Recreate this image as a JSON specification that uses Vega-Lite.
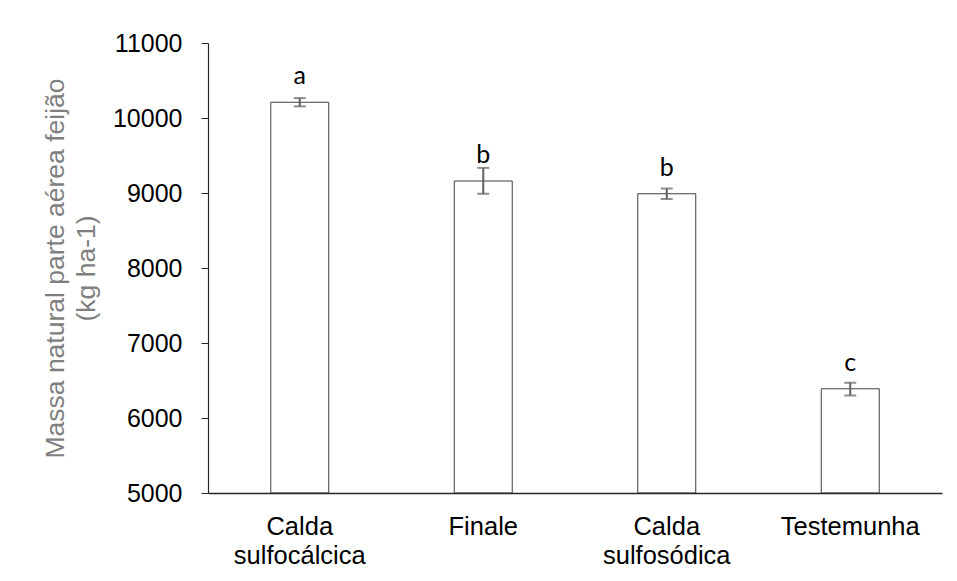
{
  "$schema": "https://vega.github.io/schema/vega-lite/v6.json",
  "width": 734,
  "height": 450,
  "autosize": {"type": "none"},
  "padding": {"left": 208, "top": 43, "right": 15, "bottom": 88},
  "background": "white",
  "config": {"view": {"stroke": null}},
  "data": {
    "values": [
      {"trat": "Calda sulfocálcica", "media": 10210, "lo": 10155, "hi": 10265, "letra": "a"},
      {"trat": "Finale", "media": 9160, "lo": 8990, "hi": 9335, "letra": "b"},
      {"trat": "Calda sulfosódica", "media": 8990, "lo": 8920, "hi": 9060, "letra": "b"},
      {"trat": "Testemunha", "media": 6390, "lo": 6300, "hi": 6470, "letra": "c"}
    ]
  },
  "encoding": {
    "x": {
      "field": "trat",
      "type": "nominal",
      "sort": null,
      "scale": {"paddingInner": 0.684, "paddingOuter": 0.342},
      "axis": {
        "title": null,
        "labelAngle": 0,
        "labelExpr": "split(datum.label, ' ')",
        "labelFont": "Liberation Sans",
        "labelFontSize": 25.5,
        "labelColor": "#000000",
        "labelLineHeight": 29,
        "labelPadding": 21,
        "labelBaseline": "top",
        "ticks": false,
        "domainColor": "#262626",
        "domainWidth": 1.6,
        "zindex": 1
      }
    }
  },
  "layer": [
    {
      "mark": {"type": "bar", "fill": "white", "stroke": "#404040", "strokeWidth": 1},
      "encoding": {
        "y": {
          "field": "media",
          "type": "quantitative",
          "scale": {"domain": [5000, 11000], "nice": false, "zero": false},
          "axis": {
            "title": ["Massa natural parte aérea feijão", "(kg ha-1)"],
            "titleColor": "#7f7f7f",
            "titleFont": "Liberation Sans",
            "titleFontSize": 26.5,
            "titleFontWeight": "normal",
            "titleLineHeight": 31,
            "titlePadding": 12,
            "values": [5000, 6000, 7000, 8000, 9000, 10000, 11000],
            "format": "d",
            "grid": false,
            "labelFont": "Liberation Sans",
            "labelFontSize": 25,
            "labelColor": "#000000",
            "labelPadding": 19,
            "tickSize": 7,
            "tickColor": "#262626",
            "domainColor": "#262626",
            "domainWidth": 1.2
          }
        },
        "y2": {"datum": 5000}
      }
    },
    {
      "mark": {"type": "rule", "color": "#606060", "strokeWidth": 2},
      "encoding": {
        "y": {"field": "lo", "type": "quantitative"},
        "y2": {"field": "hi"}
      }
    },
    {
      "mark": {"type": "tick", "color": "#606060", "thickness": 2, "size": 12, "orient": "horizontal"},
      "encoding": {"y": {"field": "lo", "type": "quantitative"}}
    },
    {
      "mark": {"type": "tick", "color": "#606060", "thickness": 2, "size": 12, "orient": "horizontal"},
      "encoding": {"y": {"field": "hi", "type": "quantitative"}}
    },
    {
      "mark": {"type": "text", "font": "Lato", "fontSize": 25, "color": "#000000", "align": "center", "baseline": "alphabetic", "dy": -18},
      "encoding": {
        "y": {"field": "media", "type": "quantitative"},
        "text": {"field": "letra"}
      }
    }
  ]
}
